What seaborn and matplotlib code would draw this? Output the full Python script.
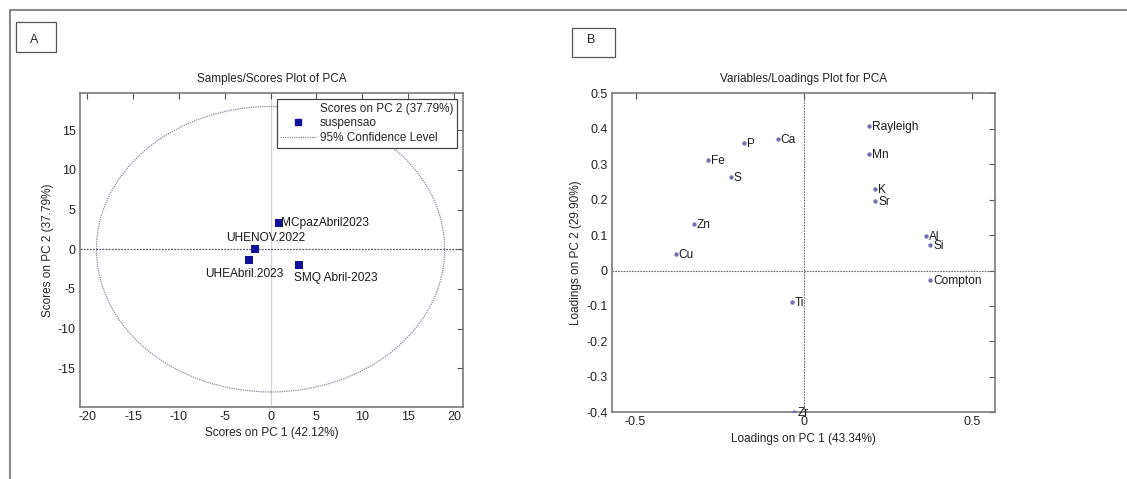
import matplotlib
matplotlib.use("Agg")
import matplotlib.pyplot as plt
import matplotlib.patches as mpatches
from matplotlib.lines import Line2D
import seaborn as sns
import pandas as pd

# ---------------- data ----------------
sample_names = ["MCpazAbril2023", "UHENOV.2022", "UHEAbril.2023", "SMQ Abril-2023"]
pc1_scores = [0.9, -1.7, -2.4, 3.1]
pc2_scores = [3.3, 0.0, -1.3, -2.0]
ellipse_semi_pc1 = 19.0
ellipse_semi_pc2 = 18.0

variable_names = ["Rayleigh", "P", "Ca", "Mn", "Fe", "S", "K", "Sr", "Zn",
                  "Al", "Si", "Cu", "Compton", "Ti", "Zr"]
pc1_loadings = [0.192, -0.178, -0.078, 0.194, -0.284, -0.217, 0.212, 0.211, -0.328,
                0.362, 0.375, -0.381, 0.374, -0.037, -0.029]
pc2_loadings = [0.408, 0.361, 0.370, 0.329, 0.312, 0.265, 0.230, 0.197, 0.131,
                0.097, 0.072, 0.047, -0.028, -0.088, -0.398]

scores_ticks_x = [-20, -15, -10, -5, 0, 5, 10, 15, 20]
scores_ticks_y = [-15, -10, -5, 0, 5, 10, 15]
load_ticks_x = [-0.5, 0, 0.5]
load_ticks_y = [-0.4, -0.3, -0.2, -0.1, 0, 0.1, 0.2, 0.3, 0.4, 0.5]

scores_df = pd.DataFrame({"pc1": pc1_scores, "pc2": pc2_scores, "name": sample_names})
load_df = pd.DataFrame({"pc1": pc1_loadings, "pc2": pc2_loadings, "name": variable_names})

# ---------------- style ----------------
sns.set_theme(style="white")
plt.rcParams["font.family"] = ["Liberation Sans", "DejaVu Sans"]
plt.rcParams["axes.edgecolor"] = "#7a7a7a"
plt.rcParams["axes.linewidth"] = 1.2

W, H = 1127, 479
fig = plt.figure(figsize=(W / 100, H / 100), dpi=100)
TXT = 8.5


def px_axes(x0, y0, x1, y1):
    return fig.add_axes([x0 / W, 1 - y1 / H, (x1 - x0) / W, (y1 - y0) / H])


def style_axes(ax):
    ax.tick_params(direction="in", top=True, right=True, length=4, width=0.8,
                   color="#555555", labelsize=9, labelcolor="#222222", pad=3)
    for s in ax.spines.values():
        s.set_color("#7a7a7a")
        s.set_linewidth(1.2)


fmt = lambda v: f"{v:g}"

# ---------------- panel A ----------------
axA = px_axes(80, 93, 463, 407)
axA.set_xlim(-20.8, 21.0)
axA.set_ylim(-19.9, 19.7)
axA.axvline(0, color="#d4d4d4", lw=0.9, zorder=0)
axA.axhline(0, color="#5a5a6a", lw=0.9, ls=(0, (1.5, 1)), zorder=0)
ell = mpatches.Ellipse((0, 0), 2 * ellipse_semi_pc1, 2 * ellipse_semi_pc2, fill=False,
                       ec="#8888a0", lw=0.9, ls=(0, (1, 0.8)))
axA.add_patch(ell)
sns.scatterplot(data=scores_df, x="pc1", y="pc2", ax=axA, marker="s", s=34,
                color="#10109a", edgecolor="#10109a", linewidth=0, legend=False, zorder=3)

labA_offsets = {
    "MCpazAbril2023": ((2, 0), "left"),
    "UHENOV.2022": ((11, 11.5), "center"),
    "UHEAbril.2023": ((-4, -14), "center"),
    "SMQ Abril-2023": ((37, -12.7), "center"),
}
for _, r in scores_df.iterrows():
    off, ha = labA_offsets[r["name"]]
    axA.annotate(r["name"], (r["pc1"], r["pc2"]), xytext=off, textcoords="offset pixels",
                 ha=ha, va="center", fontsize=8.6, color="#1a1a1a")

axA.set_xticks(scores_ticks_x)
axA.set_xticklabels([fmt(v) for v in scores_ticks_x])
axA.set_yticks(scores_ticks_y)
axA.set_yticklabels([fmt(v) for v in scores_ticks_y])
axA.set_xlabel("Scores on PC 1 (42.12%)", fontsize=TXT, color="#222222", labelpad=3)
axA.set_ylabel("Scores on PC 2 (37.79%)", fontsize=TXT, color="#222222", labelpad=3)
axA.set_title("Samples/Scores Plot of PCA", fontsize=TXT, color="#222222", pad=8)
style_axes(axA)

handles = [
    Line2D([], [], ls="none", marker=None),
    Line2D([], [], ls="none", marker="s", ms=5, color="#10109a"),
    Line2D([], [], color="#8888a0", lw=0.9, ls=(0, (1, 0.8))),
]
labels = ["Scores on PC 2 (37.79%)", "suspensao", "95% Confidence Level"]
leg = axA.legend(handles, labels, loc="upper right", bbox_to_anchor=(0.984, 0.981),
                 borderaxespad=0, fontsize=TXT, frameon=True, fancybox=False,
                 framealpha=1, edgecolor="#444444", handlelength=3.0, handletextpad=0.35,
                 labelspacing=0.25, borderpad=0.3)
leg.get_frame().set_linewidth(0.9)

# ---------------- panel B ----------------
axB = px_axes(611.7, 93.3, 995, 412.3)
axB.set_xlim(-0.571, 0.567)
axB.set_ylim(-0.4, 0.5)
axB.axvline(0, color="#6a6a6a", lw=0.8, ls=(0, (1.5, 1)), zorder=0)
axB.axhline(0, color="#6a6a6a", lw=0.8, ls=(0, (1.5, 1)), zorder=0)
sns.scatterplot(data=load_df, x="pc1", y="pc2", ax=axB, marker="o", s=10,
                color="#7272b4", edgecolor="#7272b4", linewidth=0, legend=False, zorder=3)
for _, r in load_df.iterrows():
    axB.annotate(r["name"], (r["pc1"], r["pc2"]), xytext=(3, -1), textcoords="offset pixels",
                 ha="left", va="center", fontsize=8.6, color="#1a1a1a")
axB.set_xticks(load_ticks_x)
axB.set_xticklabels([fmt(v) for v in load_ticks_x])
axB.set_yticks(load_ticks_y)
axB.set_yticklabels([fmt(v) for v in load_ticks_y])
axB.set_xlabel("Loadings on PC 1 (43.34%)", fontsize=TXT, color="#222222", labelpad=3)
axB.set_ylabel("Loadings on PC 2 (29.90%)", fontsize=TXT, color="#222222", labelpad=3)
axB.set_title("Variables/Loadings Plot for PCA", fontsize=TXT, color="#222222", pad=8)
style_axes(axB)

# ---------------- panel boxes & outer frame ----------------
def px_rect(x0, y0, x1, y1):
    fig.add_artist(mpatches.Rectangle((x0 / W, 1 - y1 / H), (x1 - x0) / W, (y1 - y0) / H,
                                      transform=fig.transFigure, fill=False,
                                      ec="#555555", lw=0.9))

px_rect(15.7, 21.7, 56, 51.7)
fig.text(34 / W, 1 - 40 / H, "A", fontsize=9, ha="center", va="center", color="#222222")
px_rect(572, 27.7, 615, 57.3)
fig.text(591 / W, 1 - 40 / H, "B", fontsize=9, ha="center", va="center", color="#222222")

fig.add_artist(Line2D([9.5 / W, 1], [1 - 10 / H, 1 - 10 / H], transform=fig.transFigure,
                      color="#8a8a8a", lw=1.5))
fig.add_artist(Line2D([9.5 / W, 9.5 / W], [0, 1 - 10 / H], transform=fig.transFigure,
                      color="#8a8a8a", lw=1.5))

fig.savefig("out.png", dpi=100, facecolor="white")
